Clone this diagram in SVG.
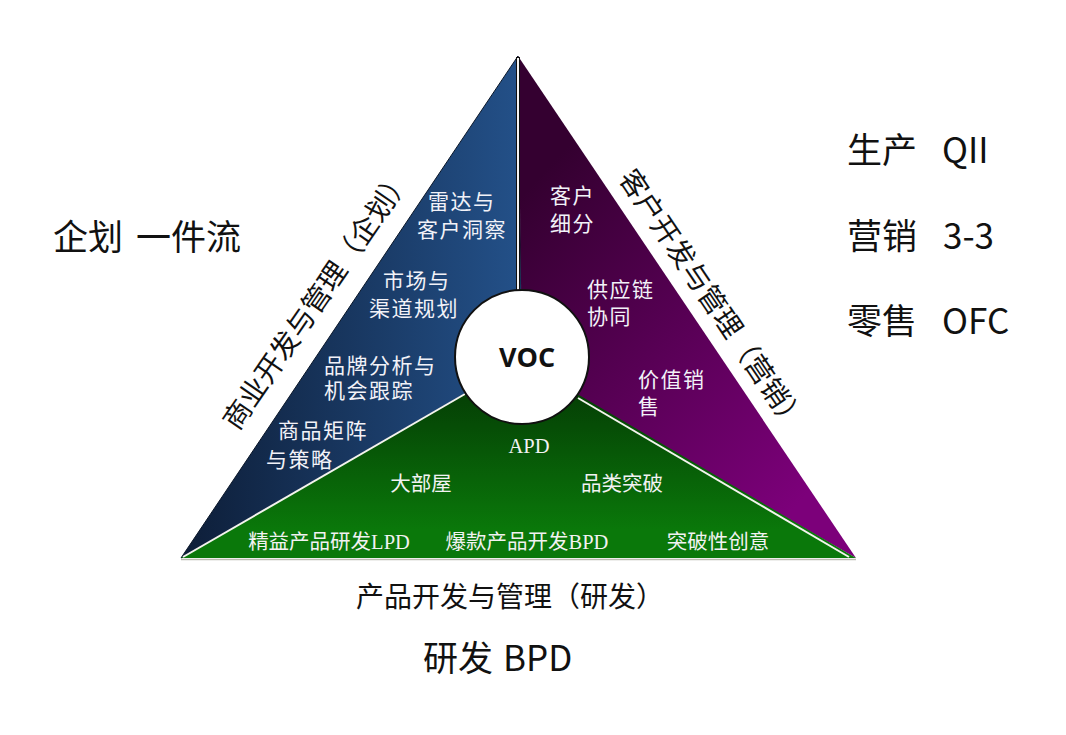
<svg xmlns="http://www.w3.org/2000/svg" width="1066" height="735" viewBox="0 0 1066 735">
<defs>
<linearGradient id="gBlue" gradientUnits="userSpaceOnUse" x1="190" y1="0" x2="518" y2="0">
<stop offset="0" stop-color="#0e1f3a"/>
<stop offset="1" stop-color="#235088"/>
</linearGradient>
<linearGradient id="gPurple" gradientUnits="userSpaceOnUse" x1="518" y1="200" x2="820" y2="480">
<stop offset="0" stop-color="#340030"/>
<stop offset="1" stop-color="#7c007a"/>
</linearGradient>
<linearGradient id="gGreen" gradientUnits="userSpaceOnUse" x1="0" y1="400" x2="0" y2="530">
<stop offset="0" stop-color="#054205"/>
<stop offset="1" stop-color="#0a780a"/>
</linearGradient>
<style>
.outer{font-family:"Noto Sans CJK SC","Open Sans",sans-serif;font-size:35px;fill:#111;}
.side{font-family:"Noto Sans CJK SC",sans-serif;font-size:28px;fill:#111;}
.inner{font-family:"Noto Sans CJK SC",sans-serif;font-size:21px;fill:#f2f2f8;letter-spacing:1.5px;}
.gtxt{font-family:"Liberation Serif","Noto Sans CJK SC",serif;font-size:20.5px;fill:#f2f2f2;}
.div{stroke:#f4f4ee;stroke-width:2;fill:none;}
</style>
</defs>
<rect width="1066" height="735" fill="#ffffff"/>

<g id="region-blue">
<polygon points="518,56 181,558 463,395 522,357" fill="url(#gBlue)" stroke="#0a1628" stroke-width="1"/>
</g>
<g id="region-purple">
<polygon points="518,56 522,357 577,397 856,558" fill="url(#gPurple)"/>
</g>
<g id="region-green">
<polygon points="181,558 463,395 522,357 574,392 856,558" fill="url(#gGreen)"/>
</g>

<g id="connectors">
<line x1="518" y1="57" x2="518" y2="295" stroke="#101010" stroke-width="4"/>
<line x1="518" y1="58" x2="518" y2="295" stroke="#f4f4f4" stroke-width="2"/>
<line class="div" x1="465" y1="394" x2="183" y2="557"/>
<line class="div" x1="578" y1="398" x2="849" y2="557"/>
<line x1="181" y1="559.5" x2="856" y2="559.5" stroke="#bdbdb2" stroke-width="1.5"/>
</g>

<g id="voc">
<circle cx="522" cy="357" r="67" fill="#ffffff" stroke="#111" stroke-width="2"/>
<text x="527" y="367" text-anchor="middle" font-family="'Open Sans','DejaVu Sans',sans-serif" font-weight="bold" font-size="27" fill="#111">VOC</text>
</g>

<g id="blue-items">
<text class="inner" x="428" y="209">雷达与</text>
<text class="inner" x="417" y="237">客户洞察</text>
<text class="inner" x="383" y="288">市场与</text>
<text class="inner" x="369" y="316">渠道规划</text>
<text class="inner" x="324" y="373">品牌分析与</text>
<text class="inner" x="324" y="398">机会跟踪</text>
<text class="inner" x="278" y="438">商品矩阵</text>
<text class="inner" x="266" y="467">与策略</text>
</g>

<g id="purple-items">
<text class="inner" x="550" y="203">客户</text>
<text class="inner" x="550" y="231">细分</text>
<text class="inner" x="587" y="297">供应链</text>
<text class="inner" x="587" y="324">协同</text>
<text class="inner" x="638" y="387">价值销</text>
<text class="inner" x="638" y="414">售</text>
</g>

<g id="green-items">
<text class="gtxt" x="529" y="453" text-anchor="middle">APD</text>
<text class="gtxt" x="421" y="491" text-anchor="middle">大部屋</text>
<text class="gtxt" x="622" y="491" text-anchor="middle">品类突破</text>
<text class="gtxt" x="329" y="549" text-anchor="middle">精益产品研发LPD</text>
<text class="gtxt" x="527" y="549" text-anchor="middle">爆款产品开发BPD</text>
<text class="gtxt" x="718" y="549" text-anchor="middle">突破性创意</text>
</g>

<g id="side-labels">
<text class="side" transform="translate(315,298) rotate(-55.5)" text-anchor="middle" dominant-baseline="central">商业开发与管理（企划）</text>
<text class="side" transform="translate(714,299) rotate(56)" text-anchor="middle" dominant-baseline="central">客户开发与管理（营销）</text>
<text class="side" x="510" y="607" text-anchor="middle">产品开发与管理（研发）</text>
</g>

<g id="outer-labels">
<text class="outer" y="250"><tspan x="53">企划</tspan><tspan x="136">一件流</tspan></text>
<text class="outer" y="163"><tspan x="847">生产</tspan><tspan x="942">QII</tspan></text>
<text class="outer" y="249"><tspan x="847">营销</tspan><tspan x="943">3-3</tspan></text>
<text class="outer" y="334"><tspan x="847">零售</tspan><tspan x="942">OFC</tspan></text>
<text class="outer" y="671"><tspan x="423">研发</tspan><tspan x="503">BPD</tspan></text>
</g>
</svg>
